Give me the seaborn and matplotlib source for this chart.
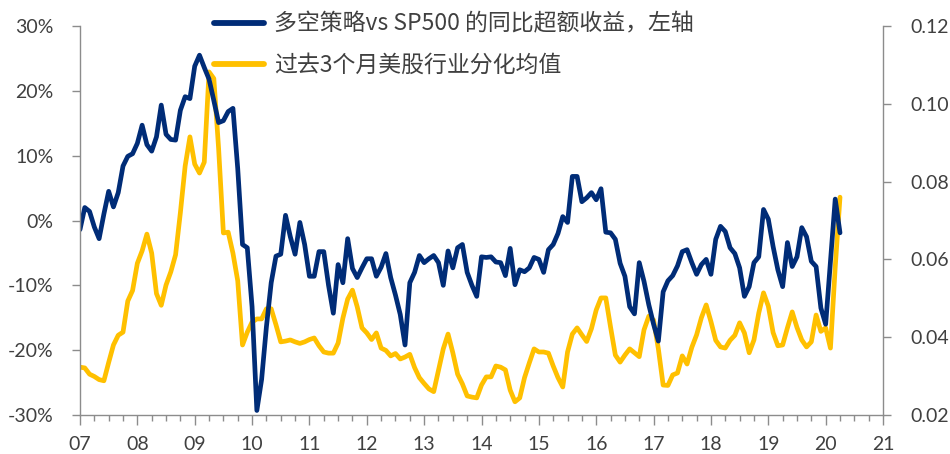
import numpy as np
import pandas as pd
import matplotlib
matplotlib.use('Agg')
import matplotlib.pyplot as plt
import seaborn as sns
from matplotlib.ticker import FuncFormatter, MultipleLocator

# monthly data, Jan 2007 .. Apr 2020
excess = [-1.4, 2.0, 1.4, -1.0, -2.8, 1.0, 4.5, 2.1, 4.3, 8.4, 9.9, 10.3,
          11.9, 14.7, 11.7, 10.7, 12.9, 17.8, 13.3, 12.5, 12.4, 17.0, 19.1, 18.8,
          23.8, 25.5, 23.6, 21.8, 18.5, 15.1, 15.4, 16.8, 17.3, 8.0, -3.7, -4.2,
          -13.3, -29.3, -24.5, -16.4, -9.6, -5.5, -5.2, 0.8, -2.5, -5.2, -0.3, -3.7,
          -8.6, -8.6, -4.8, -4.8, -10.0, -14.3, -6.8, -9.6, -2.8, -7.4, -8.8, -7.3,
          -5.9, -5.9, -8.6, -7.2, -5.1, -8.8, -11.5, -14.5, -19.2, -9.6, -8.0, -5.4,
          -6.5, -5.9, -5.4, -6.5, -10.0, -4.7, -7.3, -4.2, -3.7, -8.0, -10.0, -11.7,
          -5.6, -5.7, -5.6, -6.4, -6.5, -8.5, -4.3, -9.9, -7.6, -7.9, -7.3, -5.7,
          -6.0, -8.0, -4.5, -3.7, -2.0, 0.6, -0.3, 6.8, 6.8, 2.9, 3.5, 4.3,
          3.2, 4.9, -1.8, -1.9, -2.9, -6.6, -8.6, -13.3, -14.4, -6.5, -9.4, -13.0,
          -16.0, -18.6, -11.0, -9.3, -8.5, -7.0, -4.8, -4.5, -6.5, -8.3, -6.8, -6.0,
          -8.3, -2.9, -0.9, -1.7, -4.2, -5.1, -7.3, -11.7, -10.2, -6.5, -5.6, 1.7,
          0.2, -4.0, -7.6, -10.2, -3.4, -7.1, -5.6, -1.1, -2.5, -6.3, -7.1, -13.5,
          -16.0, -6.4, 3.3, -1.9]

dispersion = [0.0323, 0.0321, 0.0305, 0.0299, 0.0291, 0.0288, 0.0335, 0.0380, 0.0405, 0.0413, 0.0493, 0.0520,
              0.0590, 0.0622, 0.0665, 0.0616, 0.0512, 0.0482, 0.0534, 0.0568, 0.0612, 0.0720, 0.0840, 0.0915,
              0.0845, 0.0822, 0.0850, 0.1082, 0.1065, 0.0885, 0.0668, 0.0670, 0.0616, 0.0545, 0.0380, 0.0413,
              0.0439, 0.0447, 0.0447, 0.0473, 0.0473, 0.0432, 0.0388, 0.0390, 0.0393, 0.0388, 0.0384, 0.0388,
              0.0394, 0.0398, 0.0378, 0.0362, 0.0359, 0.0359, 0.0385, 0.0449, 0.0498, 0.0521, 0.0478, 0.0424,
              0.0411, 0.0394, 0.0411, 0.0372, 0.0366, 0.0352, 0.0358, 0.0344, 0.0349, 0.0356, 0.0322, 0.0296,
              0.0281, 0.0267, 0.0260, 0.0315, 0.0370, 0.0408, 0.0360, 0.0305, 0.0280, 0.0249, 0.0246, 0.0244,
              0.0277, 0.0298, 0.0298, 0.0326, 0.0323, 0.0316, 0.0264, 0.0234, 0.0244, 0.0296, 0.0334, 0.0370,
              0.0362, 0.0362, 0.0359, 0.0326, 0.0296, 0.0272, 0.0362, 0.0408, 0.0424, 0.0406, 0.0389, 0.0422,
              0.0470, 0.0501, 0.0501, 0.0426, 0.0354, 0.0336, 0.0354, 0.0370, 0.0360, 0.0350, 0.0419, 0.0454,
              0.0444, 0.0370, 0.0277, 0.0276, 0.0303, 0.0308, 0.0352, 0.0331, 0.0374, 0.0406, 0.0450, 0.0483,
              0.0440, 0.0392, 0.0375, 0.0372, 0.0392, 0.0405, 0.0437, 0.0411, 0.0360, 0.0393, 0.0462, 0.0514,
              0.0480, 0.0412, 0.0378, 0.0380, 0.0424, 0.0465, 0.0425, 0.0393, 0.0375, 0.0388, 0.0457, 0.0415,
              0.0424, 0.0372, 0.0580, 0.0760]

year_labels = ['07', '08', '09', '10', '11', '12', '13', '14', '15', '16', '17', '18', '19', '20', '21']
label_excess = '多空策略vs SP500 的同比超额收益，左轴'
label_disp = '过去3个月美股行业分化均值'

df = pd.DataFrame({'month': np.arange(len(excess)), 'excess': excess, 'dispersion': dispersion})

sns.set_style('white')
plt.rcParams['font.family'] = ['Lato', 'Noto Sans CJK SC', 'DejaVu Sans']

BLUE = '#002C77'
YELLOW = '#FFC000'
GRAY = '#8C8C8C'
TXT = '#404040'

fig = plt.figure(figsize=(9.5, 4.54), dpi=100)
ax = fig.add_axes([0.0842, 0.0859, 0.8453, 0.8568])
ax2 = ax.twinx()

sns.lineplot(x='month', y='excess', data=df, ax=ax, color=BLUE, linewidth=3.4, label=label_excess, legend=False)
sns.lineplot(x='month', y='dispersion', data=df, ax=ax2, color=YELLOW, linewidth=3.4, label=label_disp, legend=False)
ax.set_zorder(ax2.get_zorder() + 1)
ax.patch.set_visible(False)

ax.set_xlim(0, 168)
ax.set_ylim(-30, 30)
ax2.set_ylim(0.02, 0.12)
ax.set_xticks(np.arange(0, 169, 12))
ax.set_xticklabels(year_labels)
ax.xaxis.set_minor_locator(MultipleLocator(3))
ax.set_yticks(np.arange(-30, 31, 10))
ax.yaxis.set_major_formatter(FuncFormatter(lambda v, p: '%d%%' % v))
ax2.set_yticks(np.arange(0.02, 0.121, 0.02))
ax2.yaxis.set_major_formatter(FuncFormatter(lambda v, p: '%.2f' % v))
ax.set_xlabel('')
ax.set_ylabel('')
ax2.set_ylabel('')

for a in (ax, ax2):
    for s in a.spines.values():
        s.set_visible(False)
ax.spines['left'].set_visible(True)
ax.spines['bottom'].set_visible(True)
ax2.spines['right'].set_visible(True)
for s in (ax.spines['left'], ax.spines['bottom'], ax2.spines['right']):
    s.set_color(GRAY)
    s.set_linewidth(1.0)

ax.tick_params(axis='x', which='major', direction='out', length=7, width=1, color=GRAY,
               labelsize=14, labelcolor=TXT, pad=8, bottom=True)
ax.tick_params(axis='x', which='minor', direction='out', length=4, width=1, color=GRAY, bottom=True)
ax.tick_params(axis='y', direction='out', length=6, width=1, color=GRAY, labelsize=14,
               labelcolor=TXT, pad=13, left=True)
ax2.tick_params(axis='y', direction='out', length=6, width=1, color=GRAY, labelsize=14,
                labelcolor=TXT, pad=14, right=True)

h1, l1 = ax.get_legend_handles_labels()
h2, l2 = ax2.get_legend_handles_labels()
leg = fig.legend(h1 + h2, l1 + l2, loc='upper left', bbox_to_anchor=(0.208, 1.007),
                 frameon=False, handlelength=2.2, handletextpad=0.45,
                 labelspacing=0.8, borderpad=0.2,
                 prop={'family': ['Noto Sans CJK SC', 'DejaVu Sans'], 'size': 16.5})
for t in leg.get_texts():
    t.set_color(TXT)
for line in leg.get_lines():
    line.set_linewidth(4.2)
    line.set_solid_capstyle('round')

fig.savefig('out.png', dpi=100)
